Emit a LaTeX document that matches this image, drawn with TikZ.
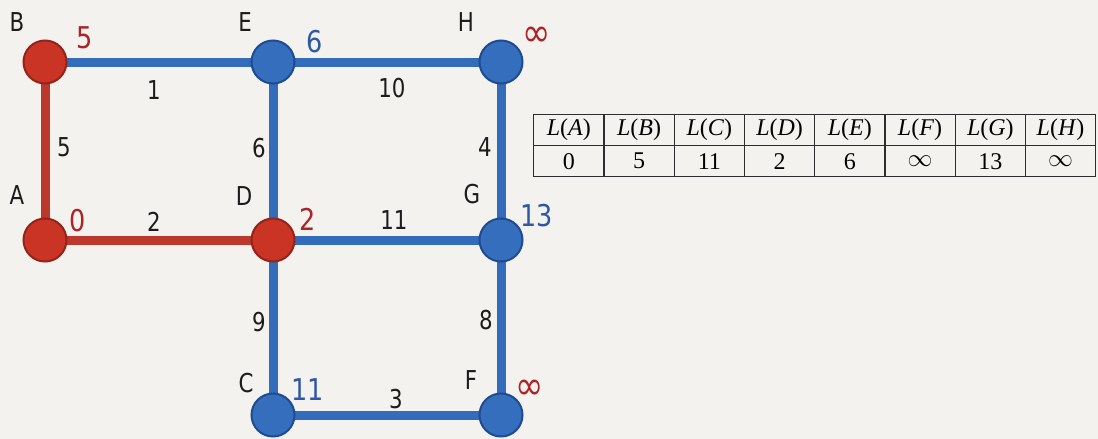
\documentclass[tikz,border=0pt]{standalone}
\usepackage{fontspec}
\setmainfont{Liberation Serif}
\newfontfamily\labfont[FakeStretch=0.82]{DejaVu Sans}
\newfontfamily\valfont[FakeStretch=0.85]{DejaVu Sans}
\usetikzlibrary{backgrounds}
\definecolor{bgc}{RGB}{243,242,239}
\definecolor{redfill}{RGB}{202,52,36}
\definecolor{redline}{RGB}{150,35,25}
\definecolor{rededge}{RGB}{188,56,44}
\definecolor{bluefill}{RGB}{52,110,188}
\definecolor{blueline}{RGB}{30,75,145}
\definecolor{blueedge}{RGB}{50,108,186}
\definecolor{redtxt}{RGB}{172,36,40}
\definecolor{bluetxt}{RGB}{44,88,168}
\definecolor{labtxt}{RGB}{28,28,28}
\definecolor{tabline}{RGB}{45,45,45}
\begin{document}
\begin{tikzpicture}[x=1pt,y=-1pt,
  vtx/.style={circle,draw,line width=2pt,minimum size=43pt,inner sep=0pt},
  redv/.style={vtx,fill=redfill,draw=redline},
  bluev/.style={vtx,fill=bluefill,draw=blueline},
  redconn/.style={line width=9pt,draw=rededge},
  blueconn/.style={line width=9pt,draw=blueedge},
  lab/.style={text=labtxt,inner sep=0pt,font=\labfont\fontsize{26}{30}\selectfont},
  wt/.style={text=labtxt,inner sep=0pt,font=\labfont\fontsize{26}{30}\selectfont},
  rval/.style={text=redtxt,inner sep=0pt,font=\valfont\fontsize{30}{34}\selectfont},
  bval/.style={text=bluetxt,inner sep=0pt,font=\valfont\fontsize{30}{34}\selectfont},
  rinf/.style={text=redtxt,inner sep=0pt,font=\valfont\fontsize{40}{44}\selectfont},
  cell/.style={draw=tabline,line width=1.4pt,minimum width=70.25pt,minimum height=31pt,inner sep=0pt,anchor=north west,font=\fontsize{24}{27}\selectfont}
]
\useasboundingbox (0,0) rectangle (1098,439);

% vertices
\node[redv]  (B) at (45,62) {};
\node[bluev] (E) at (273,62) {};
\node[bluev] (H) at (501,62) {};
\node[redv]  (A) at (45,240) {};
\node[redv]  (D) at (273,240) {};
\node[bluev] (G) at (501,240) {};
\node[bluev] (C) at (273,415) {};
\node[bluev] (F) at (501,415) {};

% background and edges (behind the vertices)
\begin{scope}[on background layer]
\fill[bgc] (0,0) rectangle (1098,439);
\path[redconn] (A.center) -- (B.center);
\path[redconn] (A.center) -- (D.center);
\path[blueconn] (B.center) -- (E.center);
\path[blueconn] (E.center) -- (H.center);
\path[blueconn] (E.center) -- (D.center);
\path[blueconn] (H.center) -- (G.center);
\path[blueconn] (D.center) -- (G.center);
\path[blueconn] (D.center) -- (C.center);
\path[blueconn] (G.center) -- (F.center);
\path[blueconn] (C.center) -- (F.center);
\end{scope}

% vertex letters
\node[lab] (lB) at (17,22) {B};
\node[lab] (lE) at (245,22) {E};
\node[lab] (lH) at (466,22) {H};
\node[lab] (lA) at (17,195) {A};
\node[lab] (lD) at (244,196) {D};
\node[lab] (lG) at (472,194) {G};
\node[lab] (lC) at (246,383) {C};
\node[lab] (lF) at (471,380) {F};

% distance values
\node[rval] (vB) at (85,38) {5};
\node[bval] (vE) at (315,42) {6};
\node[rinf] (vH) at (537,37) {∞};
\node[rval] (vA) at (78,221) {0};
\node[rval] (vD) at (308,219) {2};
\node[bval] (vG) at (537,216) {13};
\node[bval] (vC) at (308,390) {11};
\node[rinf] (vF) at (530,390) {∞};

% edge weights
\node[wt] (w1)  at (154,90) {1};
\node[wt] (w10) at (392,88) {10};
\node[wt] (w5)  at (64,147) {5};
\node[wt] (w6)  at (259,148) {6};
\node[wt] (w4)  at (485,147) {4};
\node[wt] (w2)  at (154,222) {2};
\node[wt] (w11) at (394,220) {11};
\node[wt] (w9)  at (259,322) {9};
\node[wt] (w8)  at (486,320) {8};
\node[wt] (w3)  at (396,399) {3};

% table
\foreach \lbl/\val [count=\i from 0] in {A/0,B/5,C/11,D/2,E/6,F/$\infty$,G/13,H/$\infty$}{
  \node[cell] (h\i) at ({533+70.25*\i},114) {\textit{L}(\textit{\lbl})};
  \node[cell] (r\i) at ({533+70.25*\i},145) {\val};
}
\end{tikzpicture}
\end{document}
